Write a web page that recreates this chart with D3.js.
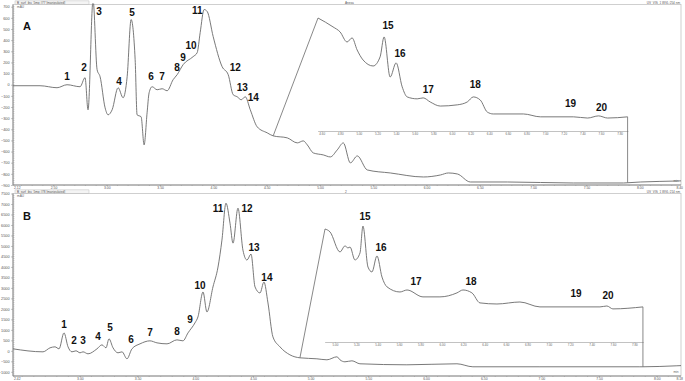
<!DOCTYPE html>
<html><head><meta charset="utf-8">
<script src="https://cdn.jsdelivr.net/npm/d3@7"></script>
<style>html,body{margin:0;padding:0;background:#fff;}svg{display:block;}</style>
</head><body>
<svg id="c" width="685" height="381"></svg>
<script>
// ---------- DATA ----------
// Panel A main chromatogram (time, min / signal, mAU)
const aMainTime = [2.12,2.139,2.374,2.533,2.627,2.749,2.796,2.824,2.871,2.909,2.937,2.984,3.012,3.050,3.106,3.153,3.191,3.228,3.266,3.284,3.322,3.350,3.378,3.397,3.425,3.472,3.519,3.566,3.622,3.660,3.716,3.810,3.848,3.876,3.913,3.942,3.998,4.082,4.139,4.186,4.223,4.261,4.299,4.346,4.411,4.505,4.561,4.693,4.787,4.843,4.881,4.937,5.031,5.097,5.162,5.219,5.285,5.350,5.444,5.660,5.970,6.130,6.205,6.289,6.411,6.759,7.378,7.848,7.886,8.008,8.355,8.41];
const aMainVal  = [-9,-9,-9,-27,0,-18,63,-225,760,135,72,-207,-270,-225,-27,-117,72,585,225,-270,-288,-540,-252,-72,-18,-45,-36,-54,45,90,180,252,288,468,675,657,432,162,90,-90,-108,-135,-108,-225,-378,-432,-459,-477,-522,-504,-540,-612,-630,-648,-585,-522,-702,-639,-765,-792,-828,-810,-792,-801,-873,-873,-882,-882,-880,-873,-864,-862];
// Panel A zoomed inset
const aInsetTime = [4.561,4.722,4.798,4.873,4.927,4.981,5.045,5.153,5.228,5.271,5.336,5.400,5.465,5.519,5.626,5.691,5.766,5.874,6.057,6.164,6.229,6.304,6.379,6.444,6.767,6.950,7.305,7.456,7.574,7.671,7.886];
const aInsetVal  = [-459,-496,-517,-559,-542,-592,-634,-659,-621,-538,-705,-646,-746,-788,-796,-792,-809,-826,-821,-809,-788,-801,-851,-859,-859,-871,-871,-876,-867,-876,-871];
// Panel B main chromatogram
const bMainTime = [2.420,2.680,2.741,2.784,2.819,2.862,2.897,2.931,2.966,3.001,3.027,3.070,3.148,3.191,3.226,3.252,3.287,3.330,3.365,3.408,3.451,3.521,3.607,3.668,3.755,3.841,3.893,3.937,3.997,4.023,4.067,4.101,4.153,4.197,4.231,4.266,4.301,4.327,4.370,4.413,4.448,4.483,4.518,4.561,4.595,4.630,4.673,4.734,4.820,4.907,5.054,5.141,5.228,5.254,5.297,5.358,5.427,5.834,6.268,6.406,6.987,7.853,7.880,8.174,8.23];
const bMainVal  = [95,-48,143,190,95,856,190,-48,0,-95,-48,-143,95,285,143,571,143,-95,-48,-380,95,333,476,380,333,523,476,856,1331,1617,2805,1854,3043,3994,5278,7037,6086,5135,6800,4803,4327,4612,3043,2758,3281,2282,666,190,-190,-333,-380,-428,-285,-428,-523,-476,-618,-666,-618,-761,-761,-761,-761,-713,-700];
// Panel B zoomed inset
const bInsetTime = [4.907,4.954,5.047,5.094,5.122,5.141,5.187,5.234,5.262,5.309,5.346,5.393,5.440,5.487,5.608,5.674,5.823,5.982,6.141,6.197,6.281,6.356,6.515,6.730,6.917,7.226,7.478,7.543,7.599,7.880];
const bInsetVal  = [-333,-349,-459,-426,-437,-432,-503,-465,-317,-542,-569,-481,-597,-651,-679,-668,-706,-706,-684,-668,-684,-739,-745,-734,-761,-761,-761,-756,-772,-761];
// Peak labels (label anchor in data coords; peaks 15-20 refer to the inset)
const peakNames = ["1","2","3","4","5","6","7","8","9","10","11","12","13","14","15","16","17","18","19","20"];
const aPeakTime = [2.627,2.787,2.928,3.115,3.237,3.416,3.519,3.660,3.716,3.791,3.848,4.205,4.271,4.374,5.314,5.443,5.745,6.250,7.273,7.606];
const aPeakVal  = [72,153,657,27,648,72,72,153,243,351,666,153,-27,-117,-492,-609,-759,-738,-817,-830];
const bPeakTime = [2.862,2.949,3.027,3.157,3.261,3.443,3.607,3.841,3.954,4.041,4.197,4.448,4.509,4.621,5.281,5.431,5.758,6.272,7.254,7.553];
const bPeakVal  = [1236,476,476,666,1094,523,856,903,1474,3138,6800,6800,4945,3519,-262,-437,-624,-624,-690,-701];
// Axis tick values / labels
const aYTicks = [700,600,500,400,300,200,100,0,-100,-200,-300,-400,-500,-600,-700,-800,-900];
const bYTicks = [7500,7000,6500,6000,5500,5000,4500,4000,3500,3000,2500,2000,1500,1000,500,0,-500,-1000];
const aXTicks = [2.5,3.0,3.5,4.0,4.5,5.0,5.5,6.0,6.5,7.0,7.5,8.0];
const bXTicks = [3.0,3.5,4.0,4.5,5.0,5.5,6.0,6.5,7.0,7.5,8.0];
const aXEnds = ["2.12","8.40"];
const bXEnds = ["2.42","8.18"];
const headersA = ["B_surf_ibu_5mg #77 [manipulated]","Anexa","UV_VIS_1 WVL:254 nm"];
const headersB = ["B_surf_ibu_5mg #78 [manipulated]","2","UV_VIS_1 WVL:214 nm"];

// ---------- DRAW ----------
const svg = d3.select("#c");
const TRACE = "#6a6a6a", AX = "#8c8c8c", FONT = "Liberation Sans, Arial";

function panel(cfg){
  const g = svg.append("g");
  const x = d3.scaleLinear().domain(cfg.xDom).range([13,681]);
  const y = d3.scaleLinear().domain(cfg.yDom).range([cfg.bot, cfg.top]);
  const ix = d3.scaleLinear().domain([cfg.insT[0], cfg.insT[cfg.insT.length-1]]).range([cfg.insX0, x(cfg.insT[cfg.insT.length-1])]);
  const iy = d3.scaleLinear().domain(cfg.iyDom).range(cfg.iyRange);
  const id = "clip"+cfg.name;
  svg.append("clipPath").attr("id", id).append("rect").attr("x",13).attr("y",cfg.top-1).attr("width",668).attr("height",cfg.bot-cfg.top+1);

  // header tab
  g.append("rect").attr("x",15).attr("y",cfg.top-3.6).attr("width",74).attr("height",3.6).attr("fill","#f4f4f4").attr("stroke","#b0b0b0").attr("stroke-width",0.4);
  g.append("text").attr("x",17).attr("y",cfg.top-0.6).attr("font-size",3.1).attr("font-family",FONT).attr("fill","#555").text(cfg.head[0]);
  g.append("text").attr("x",345).attr("y",cfg.top-0.6).attr("font-size",3.1).attr("font-family",FONT).attr("fill","#555").text(cfg.head[1]);
  g.append("text").attr("x",680).attr("y",cfg.top-0.6).attr("text-anchor","end").attr("font-size",3.1).attr("font-family",FONT).attr("fill","#555").text(cfg.head[2]);
  g.append("text").attr("x",17).attr("y",cfg.top+3.8).attr("font-size",3.2).attr("font-family",FONT).attr("fill","#666").text("mAU");
  g.append("text").attr("x",676).attr("y",cfg.bot-3).attr("text-anchor","middle").attr("font-size",3.2).attr("font-family",FONT).attr("fill","#666").text("min");

  // frame
  g.append("rect").attr("x",13).attr("y",cfg.top).attr("width",668).attr("height",cfg.bot-cfg.top).attr("fill","none").attr("stroke","#c4c4c4").attr("stroke-width",0.8);
  g.append("line").attr("x1",13).attr("x2",13).attr("y1",cfg.top).attr("y2",cfg.bot).attr("stroke",AX).attr("stroke-width",1);
  g.append("line").attr("x1",13).attr("x2",681).attr("y1",cfg.bot).attr("y2",cfg.bot).attr("stroke",AX).attr("stroke-width",1);

  // y axis
  const yAx = d3.axisLeft(y).tickValues(cfg.yTicks).tickSize(2).tickPadding(1.5).tickFormat(d3.format("d"));
  const ya = g.append("g").attr("transform","translate(13,0)").call(yAx);
  ya.select(".domain").remove();
  ya.selectAll("text").attr("font-size",3.8).attr("font-family",FONT).attr("fill","#555");
  ya.selectAll("line").attr("stroke",AX).attr("stroke-width",0.5);
  const yMinor = d3.range(cfg.yDom[0], cfg.yDom[1], cfg.yMinor);
  g.selectAll(null).data(yMinor).enter().append("line").attr("x1",13).attr("x2",14.5).attr("y1",d=>y(d)).attr("y2",d=>y(d)).attr("stroke",AX).attr("stroke-width",0.4);

  // x axis
  const xAx = d3.axisBottom(x).tickValues(cfg.xTicks).tickSize(1.2).tickPadding(0.4).tickFormat(d3.format(".2f"));
  const xa = g.append("g").attr("transform",`translate(0,${cfg.bot})`).call(xAx);
  xa.select(".domain").remove();
  xa.selectAll("text").attr("font-size",3.4).attr("font-family",FONT).attr("fill","#555");
  xa.selectAll("line").attr("stroke",AX).attr("stroke-width",0.5);
  const xMinor = d3.range(Math.ceil(cfg.xDom[0]*10)/10, cfg.xDom[1], 0.1);
  g.selectAll(null).data(xMinor).enter().append("line").attr("x1",d=>x(d)).attr("x2",d=>x(d)).attr("y1",cfg.bot).attr("y2",cfg.bot+1).attr("stroke",AX).attr("stroke-width",0.4);
  g.append("text").attr("x",14).attr("y",cfg.bot+3.9).attr("font-size",3.4).attr("font-family",FONT).attr("fill","#555").text(cfg.xEnds[0]);
  g.append("text").attr("x",683).attr("y",cfg.bot+3.9).attr("text-anchor","end").attr("font-size",3.4).attr("font-family",FONT).attr("fill","#555").text(cfg.xEnds[1]);

  // inset axis
  const iAx = d3.axisBottom(ix).tickValues(d3.range(Math.ceil(cfg.insT[0]*5)/5, cfg.insT[cfg.insT.length-1], 0.2)).tickSize(1).tickPadding(0.8).tickFormat(d3.format(".2f"));
  const ia = g.append("g").attr("transform",`translate(0,${cfg.insAxisY})`).call(iAx);
  ia.select(".domain").attr("stroke","#999").attr("stroke-width",0.6);
  ia.selectAll("text").attr("font-size",3).attr("font-family",FONT).attr("fill","#666");
  ia.selectAll("line").attr("stroke","#999").attr("stroke-width",0.4);

  const cg = g.append("g").attr("clip-path",`url(#${id})`);
  // main trace
  const mainPts = cfg.mT.map((t,i)=>[t,cfg.mV[i]]);
  cg.append("path").datum(mainPts).attr("fill","none").attr("stroke",TRACE).attr("stroke-width",0.9).attr("stroke-linejoin","round")
    .attr("d", d3.line().x(d=>x(d[0])).y(d=>y(d[1])).curve(d3.curveMonotoneX));
  // inset trace
  const insPts = cfg.insT.map((t,i)=>[t,cfg.insV[i]]);
  cg.append("path").datum(insPts).attr("fill","none").attr("stroke",TRACE).attr("stroke-width",0.9).attr("stroke-linejoin","round")
    .attr("d", d3.line().x(d=>ix(d[0])).y(d=>iy(d[1])).curve(d3.curveMonotoneX));
  // connectors
  const t0 = cfg.insT[0], t1 = cfg.insT[cfg.insT.length-1];
  const mainAt = t => { const i = d3.bisector(d=>d[0]).left(mainPts, t); const a = mainPts[Math.max(0,i-1)], b = mainPts[Math.min(mainPts.length-1,i)]; return b[0]===a[0]?a[1]:a[1]+(b[1]-a[1])*(t-a[0])/(b[0]-a[0]); };
  cg.append("line").attr("x1",x(t0)).attr("y1",y(mainAt(t0))).attr("x2",ix(t0)).attr("y2",iy(cfg.insV[0])).attr("stroke",TRACE).attr("stroke-width",0.8);
  cg.append("line").attr("x1",ix(t1)).attr("y1",iy(cfg.insV[cfg.insV.length-1])).attr("x2",x(t1)).attr("y2",y(mainAt(t1))).attr("stroke",TRACE).attr("stroke-width",0.8);

  // peak labels
  g.selectAll(null).data(peakNames).enter().append("text")
    .attr("x",(d,i)=> i<14 ? x(cfg.pT[i]) : ix(cfg.pT[i]))
    .attr("y",(d,i)=> i<14 ? y(cfg.pV[i]) : iy(cfg.pV[i]))
    .attr("text-anchor","middle").attr("dominant-baseline","central")
    .attr("font-size",10).attr("font-weight","bold").attr("font-family",FONT).attr("fill","#111").text(d=>d);
  g.append("text").attr("x",27).attr("y",cfg.letterY).attr("text-anchor","middle").attr("dominant-baseline","central")
    .attr("font-size",11).attr("font-weight","bold").attr("font-family",FONT).attr("fill","#111").text(cfg.name);
}

panel({name:"A", xDom:[2.12,8.387], yDom:[-900,720], top:4.5, bot:185, yMinor:20, yTicks:aYTicks, xTicks:aXTicks, xEnds:aXEnds, head:headersA,
  mT:aMainTime, mV:aMainVal, insT:aInsetTime, insV:aInsetVal, insX0:318, iyDom:[-459,-900], iyRange:[18,123.8], insAxisY:131,
  pT:aPeakTime, pV:aPeakVal, letterY:26});
panel({name:"B", xDom:[2.42,8.21], yDom:[-1200,7500], top:193.5, bot:376, yMinor:100, yTicks:bYTicks, xTicks:bXTicks, xEnds:bXEnds, head:headersB,
  mT:bMainTime, mV:bMainVal, insT:bInsetTime, insV:bInsetVal, insX0:325, iyDom:[-333,-900], iyRange:[229,332.2], insAxisY:342,
  pT:bPeakTime, pV:bPeakVal, letterY:216});
</script>
</body></html>
